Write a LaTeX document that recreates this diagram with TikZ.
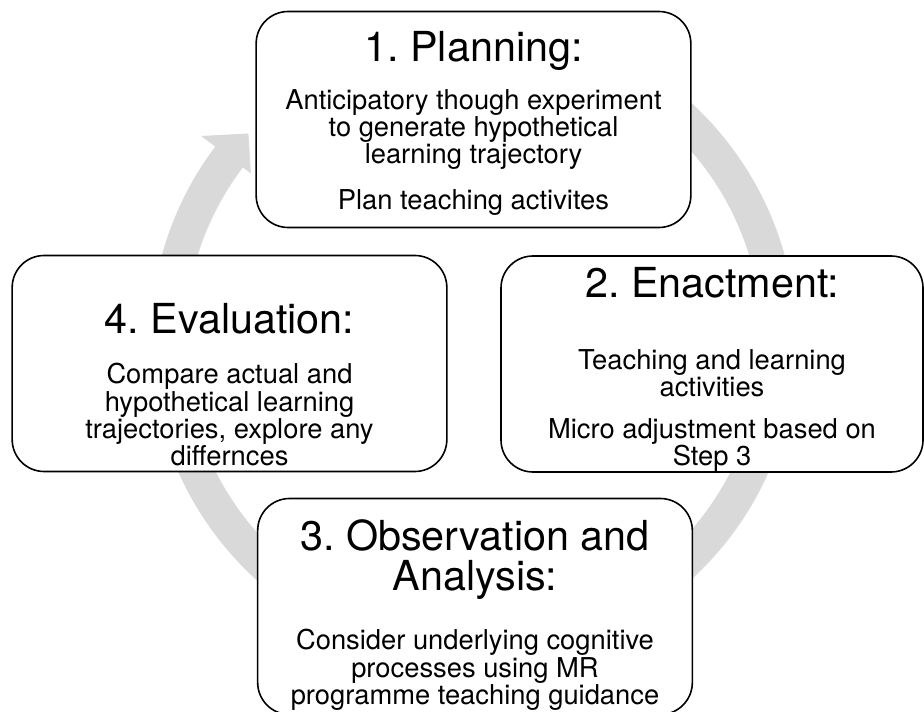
\documentclass[tikz,border=0pt]{standalone}
\usepackage{fontspec}
\setmainfont{TeX Gyre Heros}
\frenchspacing
\usetikzlibrary{positioning,shadows}
\newcommand{\stagetitle}[1]{{\fontsize{31}{31}\selectfont #1}}

\begin{document}
\begin{tikzpicture}[x=0.75pt,y=0.75pt,
    stage/.style={draw, line width=1.2pt, rounded corners=24pt, fill=white,
      minimum width=326pt, minimum height=162pt},
    stagetext/.style={align=center, inner sep=0pt,
      font={\fontsize{20.5}{20.5}\selectfont\lineskiplimit=-100pt}}]
    \path[use as bounding box] (0,0) rectangle (924,711);
    \clip (0,0) rectangle (924,711);

    % the cycle arrow, drawn first so the stages sit on it
    \begin{scope}[shift={(473,370.4)}]
      \fill[gray!30, drop shadow={shadow xshift=0.6pt, shadow yshift=-0.6pt, opacity=0.25}]
        (125:322.6) arc[start angle=125, end angle=-217, radius=322.6]
        -- (143:340) -- (137.4:306) -- (143:279)
        -- (143:289) arc[start angle=-217, end angle=125, radius=289] -- cycle;
    \end{scope}

    \node[stage] (plan) at (473.5,591.5) {};
    \node[stagetext, below=15pt of plan.north] (plantext)
      {\stagetitle{1. Planning:}\\[15.5pt]
       Anticipatory though experiment\\ to generate hypothetical\\ learning trajectory\\[13.5pt]
       Plan teaching activites};

    \node[stage, minimum width=316.5pt] (enact) at (712,347) {};
    \node[stagetext, below=9pt of enact.north] (enacttext)
      {\stagetitle{2. Enactment:}\\[33.5pt]
       Teaching and learning\\ activities\\[10.5pt]
       Micro adjustment based on\\ Step 3};

    \node[stage] (observe) at (475,104.5) {};
    \node[stagetext, below=16.5pt of observe.north] (observetext)
      {\stagetitle{3. Observation and}\\[9.5pt] \stagetitle{Analysis:}\\[23.75pt]
       Consider underlying cognitive\\ processes using MR\\ programme teaching guidance};

    \node[stage] (evaluate) at (229.5,347.5) {};
    \node[stagetext, below=36.5pt of evaluate.north] (evaluatetext)
      {\stagetitle{4. Evaluation:}\\[17pt]
       Compare actual and\\ hypothetical learning\\ trajectories, explore any\\ differnces};
\end{tikzpicture}
\end{document}
